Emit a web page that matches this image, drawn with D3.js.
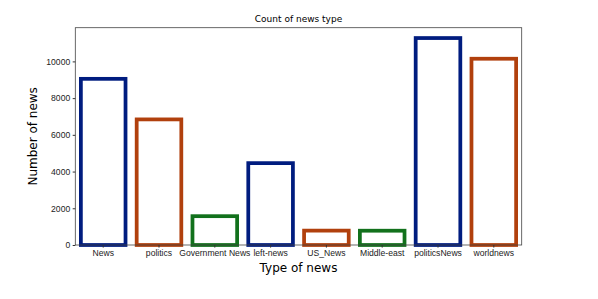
<!DOCTYPE html>
<html>
<head>
<meta charset="utf-8">
<script src="https://cdn.jsdelivr.net/npm/d3@7"></script>
<style>
  body { margin: 0; background: #fff; }
  svg { font-family: "DejaVu Sans", sans-serif; }
  .axis path, .axis line { stroke: #333; }
  .axis text { fill: #222; }
</style>
</head>
<body>
<div id="chart"></div>
<script>
// data
const categories = ['News', 'politics', 'Government News', 'left-news', 'US_News', 'Middle-east', 'politicsNews', 'worldnews'];
const counts = [9050, 6841, 1570, 4459, 783, 778, 11272, 10145];
const palette = ['#001c7f', '#b1400d', '#12711c'];
const yTicks = [0, 2000, 4000, 6000, 8000, 10000];

const width = 598, height = 299;
const margin = { top: 27.7, right: 76.3, bottom: 54, left: 75.3 };
const innerW = width - margin.left - margin.right;
const innerH = height - margin.top - margin.bottom;

const svg = d3.select('#chart').append('svg')
  .attr('width', width)
  .attr('height', height);

const g = svg.append('g')
  .attr('transform', 'translate(' + margin.left + ',' + margin.top + ')');

const x = d3.scaleBand()
  .domain(categories)
  .range([0, innerW])
  .paddingInner(0.2)
  .paddingOuter(0.1);

const y = d3.scaleLinear()
  .domain([0, d3.max(counts) * 1.05])
  .range([innerH, 0]);

// bars (outline only)
g.selectAll('.bar')
  .data(categories)
  .enter().append('rect')
  .attr('class', 'bar')
  .attr('x', d => x(d))
  .attr('width', x.bandwidth())
  .attr('y', (d, i) => y(counts[i]))
  .attr('height', (d, i) => innerH - y(counts[i]))
  .attr('fill', 'none')
  .attr('stroke', (d, i) => palette[i % 3])
  .attr('stroke-width', 3.75);

// frame
g.append('rect')
  .attr('width', innerW)
  .attr('height', innerH)
  .attr('fill', 'none')
  .attr('stroke', '#444')
  .attr('stroke-width', 0.8);

const xAxis = g.append('g')
  .attr('class', 'axis')
  .attr('transform', 'translate(0,' + innerH + ')')
  .call(d3.axisBottom(x).tickSize(2.6).tickPadding(2.5).tickSizeOuter(0));
xAxis.select('.domain').remove();
xAxis.selectAll('text').style('font-size', '8.6px');

const yAxis = g.append('g')
  .attr('class', 'axis')
  .call(d3.axisLeft(y).tickValues(yTicks).tickFormat(d3.format('d')).tickSize(2.6).tickPadding(2.5).tickSizeOuter(0));
yAxis.select('.domain').remove();
yAxis.selectAll('text').style('font-size', '8.6px');

// title and axis labels
svg.append('text')
  .attr('x', margin.left + innerW / 2)
  .attr('y', 22)
  .attr('text-anchor', 'middle')
  .style('font-size', '9px')
  .text('Count of news type');

svg.append('text')
  .attr('x', margin.left + innerW / 2)
  .attr('y', 272)
  .attr('text-anchor', 'middle')
  .style('font-size', '12px')
  .text('Type of news');

svg.append('text')
  .attr('transform', 'translate(37,' + (margin.top + innerH / 2) + ') rotate(-90)')
  .attr('text-anchor', 'middle')
  .style('font-size', '12px')
  .text('Number of news');
</script>
</body>
</html>
